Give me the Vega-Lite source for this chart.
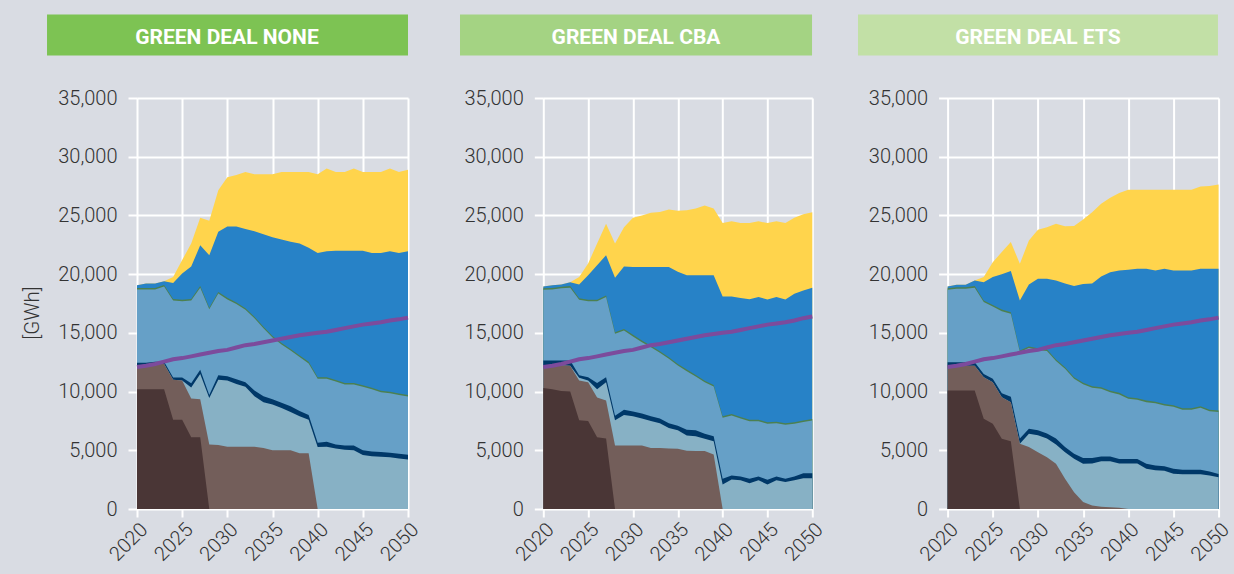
{
"$schema": "https://vega.github.io/schema/vega-lite/v6.json",
"background": "#d9dce3",
"padding": {"left": 23, "top": 14, "right": 10, "bottom": 15},
"autosize": {"type": "pad"},
"config": {
 "view": {"stroke": null},
 "font": "Roboto",
 "axis": {"labelFont": "Roboto", "labelFontSize": 20, "labelFontWeight": 300, "labelColor": "#333333", "labelFlush": false, "labelOverlap": false, "grid": true, "gridColor": "#ffffff", "gridWidth": 2, "gridOpacity": 1, "tickColor": "#ffffff", "tickWidth": 2, "domain": false}
},
"data": {"values": [
{"p":"NONE","year":2020,"lig":10200,"coal":12200,"gas":12200,"oil":12450,"hyd":18700,"bio":18830,"wind":19050,"pv":19050,"dem":12100},
{"p":"NONE","year":2021,"lig":10200,"coal":12200,"gas":12200,"oil":12450,"hyd":18700,"bio":18830,"wind":19200,"pv":19200,"dem":12200},
{"p":"NONE","year":2022,"lig":10200,"coal":12350,"gas":12350,"oil":12550,"hyd":18700,"bio":18830,"wind":19200,"pv":19200,"dem":12350},
{"p":"NONE","year":2023,"lig":10200,"coal":12350,"gas":12350,"oil":12550,"hyd":18950,"bio":19080,"wind":19400,"pv":19400,"dem":12550},
{"p":"NONE","year":2024,"lig":7600,"coal":11000,"gas":11000,"oil":11200,"hyd":17750,"bio":17880,"wind":19250,"pv":19750,"dem":12750},
{"p":"NONE","year":2025,"lig":7600,"coal":10950,"gas":10950,"oil":11200,"hyd":17700,"bio":17830,"wind":20050,"pv":21200,"dem":12850},
{"p":"NONE","year":2026,"lig":6100,"coal":9400,"gas":10350,"oil":10700,"hyd":17750,"bio":17880,"wind":20650,"pv":22600,"dem":13000},
{"p":"NONE","year":2027,"lig":6100,"coal":9350,"gas":11500,"oil":11850,"hyd":18850,"bio":18980,"wind":22450,"pv":24800,"dem":13150},
{"p":"NONE","year":2028,"lig":0,"coal":5500,"gas":9450,"oil":9700,"hyd":17000,"bio":17130,"wind":21600,"pv":24550,"dem":13300},
{"p":"NONE","year":2029,"lig":0,"coal":5450,"gas":11000,"oil":11400,"hyd":18350,"bio":18480,"wind":23600,"pv":27150,"dem":13450},
{"p":"NONE","year":2030,"lig":0,"coal":5300,"gas":10950,"oil":11300,"hyd":17850,"bio":17980,"wind":24050,"pv":28250,"dem":13550},
{"p":"NONE","year":2031,"lig":0,"coal":5300,"gas":10650,"oil":11050,"hyd":17450,"bio":17580,"wind":24050,"pv":28450,"dem":13750},
{"p":"NONE","year":2032,"lig":0,"coal":5300,"gas":10400,"oil":10800,"hyd":16970,"bio":17100,"wind":23850,"pv":28700,"dem":13950},
{"p":"NONE","year":2033,"lig":0,"coal":5300,"gas":9600,"oil":10100,"hyd":16250,"bio":16380,"wind":23650,"pv":28500,"dem":14050},
{"p":"NONE","year":2034,"lig":0,"coal":5200,"gas":9100,"oil":9600,"hyd":15400,"bio":15530,"wind":23400,"pv":28500,"dem":14200},
{"p":"NONE","year":2035,"lig":0,"coal":5000,"gas":8900,"oil":9350,"hyd":14600,"bio":14730,"wind":23150,"pv":28500,"dem":14350},
{"p":"NONE","year":2036,"lig":0,"coal":5000,"gas":8600,"oil":9050,"hyd":14000,"bio":14130,"wind":22950,"pv":28700,"dem":14500},
{"p":"NONE","year":2037,"lig":0,"coal":5000,"gas":8250,"oil":8750,"hyd":13500,"bio":13630,"wind":22750,"pv":28700,"dem":14650},
{"p":"NONE","year":2038,"lig":0,"coal":4750,"gas":7900,"oil":8350,"hyd":12950,"bio":13080,"wind":22600,"pv":28700,"dem":14800},
{"p":"NONE","year":2039,"lig":0,"coal":4750,"gas":7600,"oil":8000,"hyd":12400,"bio":12530,"wind":22250,"pv":28700,"dem":14900},
{"p":"NONE","year":2040,"lig":0,"coal":0,"gas":5270,"oil":5650,"hyd":11100,"bio":11230,"wind":21800,"pv":28500,"dem":15000},
{"p":"NONE","year":2041,"lig":0,"coal":0,"gas":5300,"oil":5720,"hyd":11100,"bio":11230,"wind":21950,"pv":29000,"dem":15100},
{"p":"NONE","year":2042,"lig":0,"coal":0,"gas":5150,"oil":5500,"hyd":10850,"bio":10980,"wind":22000,"pv":28700,"dem":15250},
{"p":"NONE","year":2043,"lig":0,"coal":0,"gas":5050,"oil":5400,"hyd":10600,"bio":10730,"wind":22000,"pv":28700,"dem":15400},
{"p":"NONE","year":2044,"lig":0,"coal":0,"gas":5000,"oil":5400,"hyd":10600,"bio":10730,"wind":22000,"pv":29000,"dem":15550},
{"p":"NONE","year":2045,"lig":0,"coal":0,"gas":4600,"oil":5000,"hyd":10400,"bio":10530,"wind":22000,"pv":28700,"dem":15700},
{"p":"NONE","year":2046,"lig":0,"coal":0,"gas":4500,"oil":4900,"hyd":10200,"bio":10330,"wind":21800,"pv":28700,"dem":15800},
{"p":"NONE","year":2047,"lig":0,"coal":0,"gas":4450,"oil":4850,"hyd":9950,"bio":10080,"wind":21800,"pv":28700,"dem":15900},
{"p":"NONE","year":2048,"lig":0,"coal":0,"gas":4400,"oil":4800,"hyd":9850,"bio":9980,"wind":21950,"pv":29000,"dem":16050},
{"p":"NONE","year":2049,"lig":0,"coal":0,"gas":4300,"oil":4700,"hyd":9700,"bio":9830,"wind":21800,"pv":28700,"dem":16150},
{"p":"NONE","year":2050,"lig":0,"coal":0,"gas":4220,"oil":4620,"hyd":9580,"bio":9710,"wind":21950,"pv":28900,"dem":16300},
{"p":"CBA","year":2020,"lig":10300,"coal":12250,"gas":12250,"oil":12650,"hyd":18670,"bio":18800,"wind":18950,"pv":18950,"dem":12100},
{"p":"CBA","year":2021,"lig":10200,"coal":12250,"gas":12250,"oil":12650,"hyd":18700,"bio":18830,"wind":19050,"pv":19050,"dem":12200},
{"p":"CBA","year":2022,"lig":10050,"coal":12250,"gas":12250,"oil":12650,"hyd":18800,"bio":18930,"wind":19120,"pv":19120,"dem":12350},
{"p":"CBA","year":2023,"lig":10000,"coal":12200,"gas":12200,"oil":12650,"hyd":18850,"bio":18980,"wind":19320,"pv":19320,"dem":12550},
{"p":"CBA","year":2024,"lig":7550,"coal":10950,"gas":11170,"oil":11400,"hyd":17820,"bio":17950,"wind":19120,"pv":19750,"dem":12750},
{"p":"CBA","year":2025,"lig":7500,"coal":10800,"gas":10950,"oil":11230,"hyd":17700,"bio":17830,"wind":19900,"pv":20900,"dem":12850},
{"p":"CBA","year":2026,"lig":6100,"coal":9500,"gas":10200,"oil":10720,"hyd":17700,"bio":17830,"wind":20750,"pv":22600,"dem":13000},
{"p":"CBA","year":2027,"lig":6000,"coal":9250,"gas":10800,"oil":11230,"hyd":18050,"bio":18180,"wind":21600,"pv":24300,"dem":13150},
{"p":"CBA","year":2028,"lig":0,"coal":5400,"gas":7550,"oil":7950,"hyd":14920,"bio":15050,"wind":19700,"pv":22600,"dem":13300},
{"p":"CBA","year":2029,"lig":0,"coal":5400,"gas":8000,"oil":8450,"hyd":15200,"bio":15330,"wind":20650,"pv":24000,"dem":13450},
{"p":"CBA","year":2030,"lig":0,"coal":5400,"gas":7900,"oil":8300,"hyd":14700,"bio":14830,"wind":20600,"pv":24800,"dem":13550},
{"p":"CBA","year":2031,"lig":0,"coal":5400,"gas":7700,"oil":8140,"hyd":14210,"bio":14340,"wind":20600,"pv":25000,"dem":13750},
{"p":"CBA","year":2032,"lig":0,"coal":5200,"gas":7500,"oil":7900,"hyd":13780,"bio":13910,"wind":20600,"pv":25230,"dem":13950},
{"p":"CBA","year":2033,"lig":0,"coal":5200,"gas":7300,"oil":7700,"hyd":13300,"bio":13430,"wind":20600,"pv":25300,"dem":14050},
{"p":"CBA","year":2034,"lig":0,"coal":5150,"gas":6900,"oil":7300,"hyd":12800,"bio":12930,"wind":20600,"pv":25500,"dem":14200},
{"p":"CBA","year":2035,"lig":0,"coal":5130,"gas":6700,"oil":7100,"hyd":12220,"bio":12350,"wind":20200,"pv":25400,"dem":14350},
{"p":"CBA","year":2036,"lig":0,"coal":4950,"gas":6260,"oil":6740,"hyd":11740,"bio":11870,"wind":19900,"pv":25450,"dem":14500},
{"p":"CBA","year":2037,"lig":0,"coal":4930,"gas":6200,"oil":6700,"hyd":11290,"bio":11420,"wind":19900,"pv":25600,"dem":14650},
{"p":"CBA","year":2038,"lig":0,"coal":4930,"gas":5980,"oil":6400,"hyd":10800,"bio":10930,"wind":19900,"pv":25850,"dem":14800},
{"p":"CBA","year":2039,"lig":0,"coal":4650,"gas":5780,"oil":6200,"hyd":10430,"bio":10560,"wind":19900,"pv":25600,"dem":14900},
{"p":"CBA","year":2040,"lig":0,"coal":0,"gas":2090,"oil":2570,"hyd":7770,"bio":7900,"wind":18100,"pv":24350,"dem":15000},
{"p":"CBA","year":2041,"lig":0,"coal":0,"gas":2510,"oil":2850,"hyd":7960,"bio":8090,"wind":18100,"pv":24500,"dem":15100},
{"p":"CBA","year":2042,"lig":0,"coal":0,"gas":2450,"oil":2770,"hyd":7700,"bio":7830,"wind":17960,"pv":24350,"dem":15250},
{"p":"CBA","year":2043,"lig":0,"coal":0,"gas":2200,"oil":2570,"hyd":7480,"bio":7610,"wind":17870,"pv":24350,"dem":15400},
{"p":"CBA","year":2044,"lig":0,"coal":0,"gas":2450,"oil":2770,"hyd":7480,"bio":7610,"wind":18050,"pv":24500,"dem":15550},
{"p":"CBA","year":2045,"lig":0,"coal":0,"gas":2090,"oil":2500,"hyd":7260,"bio":7390,"wind":17850,"pv":24350,"dem":15700},
{"p":"CBA","year":2046,"lig":0,"coal":0,"gas":2450,"oil":2770,"hyd":7300,"bio":7430,"wind":18050,"pv":24500,"dem":15800},
{"p":"CBA","year":2047,"lig":0,"coal":0,"gas":2300,"oil":2570,"hyd":7170,"bio":7300,"wind":17850,"pv":24350,"dem":15900},
{"p":"CBA","year":2048,"lig":0,"coal":0,"gas":2450,"oil":2770,"hyd":7260,"bio":7390,"wind":18330,"pv":24800,"dem":16050},
{"p":"CBA","year":2049,"lig":0,"coal":0,"gas":2620,"oil":3050,"hyd":7400,"bio":7530,"wind":18600,"pv":25100,"dem":16250},
{"p":"CBA","year":2050,"lig":0,"coal":0,"gas":2620,"oil":3050,"hyd":7540,"bio":7670,"wind":18840,"pv":25280,"dem":16400},
{"p":"ETS","year":2020,"lig":10100,"coal":12200,"gas":12200,"oil":12500,"hyd":18670,"bio":18800,"wind":18950,"pv":18950,"dem":12100},
{"p":"ETS","year":2021,"lig":10100,"coal":12200,"gas":12200,"oil":12500,"hyd":18750,"bio":18880,"wind":19100,"pv":19100,"dem":12200},
{"p":"ETS","year":2022,"lig":10100,"coal":12200,"gas":12200,"oil":12500,"hyd":18750,"bio":18880,"wind":19100,"pv":19100,"dem":12350},
{"p":"ETS","year":2023,"lig":10100,"coal":12200,"gas":12200,"oil":12500,"hyd":18850,"bio":18980,"wind":19460,"pv":19460,"dem":12550},
{"p":"ETS","year":2024,"lig":7680,"coal":11230,"gas":11230,"oil":11500,"hyd":17620,"bio":17750,"wind":19300,"pv":19750,"dem":12750},
{"p":"ETS","year":2025,"lig":7260,"coal":10800,"gas":10800,"oil":11100,"hyd":17250,"bio":17380,"wind":19750,"pv":21020,"dem":12850},
{"p":"ETS","year":2026,"lig":5980,"coal":9520,"gas":9520,"oil":9850,"hyd":16850,"bio":16980,"wind":20000,"pv":21880,"dem":13000},
{"p":"ETS","year":2027,"lig":5780,"coal":9100,"gas":9100,"oil":9550,"hyd":16630,"bio":16760,"wind":20260,"pv":22730,"dem":13150},
{"p":"ETS","year":2028,"lig":0,"coal":5550,"gas":5550,"oil":6000,"hyd":13360,"bio":13490,"wind":17760,"pv":20880,"dem":13300},
{"p":"ETS","year":2029,"lig":0,"coal":5270,"gas":6400,"oil":6830,"hyd":13700,"bio":13830,"wind":19120,"pv":22870,"dem":13450},
{"p":"ETS","year":2030,"lig":0,"coal":4840,"gas":6270,"oil":6700,"hyd":13550,"bio":13680,"wind":19600,"pv":23780,"dem":13550},
{"p":"ETS","year":2031,"lig":0,"coal":4400,"gas":6000,"oil":6430,"hyd":13450,"bio":13580,"wind":19600,"pv":24000,"dem":13750},
{"p":"ETS","year":2032,"lig":0,"coal":3850,"gas":5500,"oil":6000,"hyd":12600,"bio":12730,"wind":19460,"pv":24290,"dem":13950},
{"p":"ETS","year":2033,"lig":0,"coal":2570,"gas":4840,"oil":5270,"hyd":11940,"bio":12070,"wind":19200,"pv":24070,"dem":14050},
{"p":"ETS","year":2034,"lig":0,"coal":1430,"gas":4270,"oil":4700,"hyd":11100,"bio":11230,"wind":19000,"pv":24100,"dem":14200},
{"p":"ETS","year":2035,"lig":0,"coal":600,"gas":3850,"oil":4350,"hyd":10630,"bio":10760,"wind":19150,"pv":24650,"dem":14350},
{"p":"ETS","year":2036,"lig":0,"coal":300,"gas":3870,"oil":4350,"hyd":10320,"bio":10450,"wind":19200,"pv":25280,"dem":14500},
{"p":"ETS","year":2037,"lig":0,"coal":200,"gas":4070,"oil":4470,"hyd":10240,"bio":10370,"wind":19800,"pv":26000,"dem":14650},
{"p":"ETS","year":2038,"lig":0,"coal":150,"gas":4070,"oil":4470,"hyd":9950,"bio":10080,"wind":20170,"pv":26500,"dem":14800},
{"p":"ETS","year":2039,"lig":0,"coal":100,"gas":3870,"oil":4250,"hyd":9760,"bio":9890,"wind":20300,"pv":26900,"dem":14900},
{"p":"ETS","year":2040,"lig":0,"coal":0,"gas":3870,"oil":4250,"hyd":9390,"bio":9520,"wind":20370,"pv":27190,"dem":15000},
{"p":"ETS","year":2041,"lig":0,"coal":0,"gas":3870,"oil":4250,"hyd":9300,"bio":9430,"wind":20460,"pv":27190,"dem":15100},
{"p":"ETS","year":2042,"lig":0,"coal":0,"gas":3420,"oil":3860,"hyd":9100,"bio":9230,"wind":20460,"pv":27190,"dem":15250},
{"p":"ETS","year":2043,"lig":0,"coal":0,"gas":3290,"oil":3710,"hyd":9000,"bio":9130,"wind":20300,"pv":27190,"dem":15400},
{"p":"ETS","year":2044,"lig":0,"coal":0,"gas":3250,"oil":3650,"hyd":8820,"bio":8950,"wind":20460,"pv":27190,"dem":15550},
{"p":"ETS","year":2045,"lig":0,"coal":0,"gas":3000,"oil":3420,"hyd":8700,"bio":8830,"wind":20300,"pv":27190,"dem":15700},
{"p":"ETS","year":2046,"lig":0,"coal":0,"gas":2950,"oil":3350,"hyd":8450,"bio":8580,"wind":20300,"pv":27190,"dem":15800},
{"p":"ETS","year":2047,"lig":0,"coal":0,"gas":2950,"oil":3350,"hyd":8450,"bio":8580,"wind":20300,"pv":27190,"dem":15900},
{"p":"ETS","year":2048,"lig":0,"coal":0,"gas":2950,"oil":3350,"hyd":8620,"bio":8750,"wind":20460,"pv":27470,"dem":16050},
{"p":"ETS","year":2049,"lig":0,"coal":0,"gas":2850,"oil":3190,"hyd":8330,"bio":8460,"wind":20460,"pv":27500,"dem":16150},
{"p":"ETS","year":2050,"lig":0,"coal":0,"gas":2710,"oil":2990,"hyd":8250,"bio":8380,"wind":20460,"pv":27640,"dem":16300}
]},
"bounds": "flush",
"spacing": 135.3,
"hconcat": [
 {"width": 271, "height": 411,
  "layer": [
   {"data": {"values": [{"t": "GREEN DEAL NONE"}]}, "mark": {"type": "rect", "color": "#7dc353", "clip": false},
    "encoding": {"x": {"datum": 2010.04, "type": "quantitative", "title": null, "scale": {"domain": [2020, 2050], "nice": false, "zero": false}}, "x2": {"datum": 2050.0}, "y": {"datum": 42111, "type": "quantitative", "title": null, "scale": {"domain": [0, 35000], "nice": false}}, "y2": {"datum": 38619}}},
   {"data": {"values": [{"t": "GREEN DEAL NONE"}]}, "mark": {"type": "text", "color": "#ffffff", "font": "Roboto", "fontSize": 21, "fontWeight": "bold", "baseline": "alphabetic", "align": "center", "clip": false},
    "encoding": {"text": {"field": "t"}, "x": {"datum": 2029.96, "type": "quantitative", "title": null, "scale": {"domain": [2020, 2050], "nice": false, "zero": false}}, "y": {"datum": 39581, "type": "quantitative", "title": null, "scale": {"domain": [0, 35000], "nice": false}}}},
   {"data": {"values": [{"t": "[GWh]"}]}, "mark": {"type": "text", "color": "#333333", "font": "Roboto", "fontSize": 20.5, "fontWeight": 300, "angle": 270, "baseline": "middle", "align": "center", "clip": false},
    "encoding": {"text": {"field": "t"}, "x": {"datum": 2008.49, "type": "quantitative", "title": null, "scale": {"domain": [2020, 2050], "nice": false, "zero": false}}, "y": {"datum": 16690, "type": "quantitative", "title": null, "scale": {"domain": [0, 35000], "nice": false}}}},
   {"transform": [{"filter": "datum.p === 'NONE'"}, {"fold": ["pv","wind","bio","hyd","oil","gas","coal","lig","dem"], "as": ["k","v"]}],
    "encoding": {
     "x": {"field": "year", "type": "quantitative", "scale": {"domain": [2020, 2050], "nice": false, "zero": false}, "axis": {"values": [2020,2025,2030,2035,2040,2045,2050], "format": "d", "labelAngle": -45, "labelAlign": "right", "labelBaseline": "top", "title": null, "labelPadding": 2, "tickSize": 8}},
     "y": {"field": "v", "type": "quantitative", "stack": null, "scale": {"domain": [0, 35000], "nice": false}, "axis": {"values": [0,5000,10000,15000,20000,25000,30000,35000], "format": ",d", "title": null, "labelPadding": 11, "tickSize": 9}}
    },
    "layer": [
     {"transform": [{"filter": "datum.k === 'pv'"}], "mark": {"type": "area", "color": "#ffd44c"}, "encoding": {}},
     {"transform": [{"filter": "datum.k === 'wind'"}], "mark": {"type": "area", "color": "#2782c7"}, "encoding": {}},
     {"transform": [{"filter": "datum.k === 'bio'"}], "mark": {"type": "area", "color": "#4c8050"}, "encoding": {}},
     {"transform": [{"filter": "datum.k === 'hyd'"}], "mark": {"type": "area", "color": "#66a0c7"}, "encoding": {}},
     {"transform": [{"filter": "datum.k === 'oil'"}], "mark": {"type": "area", "color": "#003868"}, "encoding": {}},
     {"transform": [{"filter": "datum.k === 'gas'"}], "mark": {"type": "area", "color": "#87b1c5"}, "encoding": {}},
     {"transform": [{"filter": "datum.k === 'coal'"}], "mark": {"type": "area", "color": "#735e5a"}, "encoding": {}},
     {"transform": [{"filter": "datum.k === 'lig'"}], "mark": {"type": "area", "color": "#4a3636"}, "encoding": {}},
     {"transform": [{"filter": "datum.k === 'dem'"}], "mark": {"type": "line", "color": "#7c4b9c", "strokeWidth": 4}, "encoding": {}}
    ]}
  ]},
 {"width": 269, "height": 411,
  "layer": [
   {"data": {"values": [{"t": "GREEN DEAL CBA"}]}, "mark": {"type": "rect", "color": "#a4d383", "clip": false},
    "encoding": {"x": {"datum": 2010.71, "type": "quantitative", "title": null, "scale": {"domain": [2020, 2050], "nice": false, "zero": false}}, "x2": {"datum": 2049.97}, "y": {"datum": 42111, "type": "quantitative", "title": null, "scale": {"domain": [0, 35000], "nice": false}}, "y2": {"datum": 38619}}},
   {"data": {"values": [{"t": "GREEN DEAL CBA"}]}, "mark": {"type": "text", "color": "#ffffff", "font": "Roboto", "fontSize": 21, "fontWeight": "bold", "baseline": "alphabetic", "align": "center", "clip": false},
    "encoding": {"text": {"field": "t"}, "x": {"datum": 2030.34, "type": "quantitative", "title": null, "scale": {"domain": [2020, 2050], "nice": false, "zero": false}}, "y": {"datum": 39581, "type": "quantitative", "title": null, "scale": {"domain": [0, 35000], "nice": false}}}},
   {"transform": [{"filter": "datum.p === 'CBA'"}, {"fold": ["pv","wind","bio","hyd","oil","gas","coal","lig","dem"], "as": ["k","v"]}],
    "encoding": {
     "x": {"field": "year", "type": "quantitative", "scale": {"domain": [2020, 2050], "nice": false, "zero": false}, "axis": {"values": [2020,2025,2030,2035,2040,2045,2050], "format": "d", "labelAngle": -45, "labelAlign": "right", "labelBaseline": "top", "title": null, "labelPadding": 2, "tickSize": 8}},
     "y": {"field": "v", "type": "quantitative", "stack": null, "scale": {"domain": [0, 35000], "nice": false}, "axis": {"values": [0,5000,10000,15000,20000,25000,30000,35000], "format": ",d", "title": null, "labelPadding": 11, "tickSize": 9}}
    },
    "layer": [
     {"transform": [{"filter": "datum.k === 'pv'"}], "mark": {"type": "area", "color": "#ffd44c"}, "encoding": {}},
     {"transform": [{"filter": "datum.k === 'wind'"}], "mark": {"type": "area", "color": "#2782c7"}, "encoding": {}},
     {"transform": [{"filter": "datum.k === 'bio'"}], "mark": {"type": "area", "color": "#4c8050"}, "encoding": {}},
     {"transform": [{"filter": "datum.k === 'hyd'"}], "mark": {"type": "area", "color": "#66a0c7"}, "encoding": {}},
     {"transform": [{"filter": "datum.k === 'oil'"}], "mark": {"type": "area", "color": "#003868"}, "encoding": {}},
     {"transform": [{"filter": "datum.k === 'gas'"}], "mark": {"type": "area", "color": "#87b1c5"}, "encoding": {}},
     {"transform": [{"filter": "datum.k === 'coal'"}], "mark": {"type": "area", "color": "#735e5a"}, "encoding": {}},
     {"transform": [{"filter": "datum.k === 'lig'"}], "mark": {"type": "area", "color": "#4a3636"}, "encoding": {}},
     {"transform": [{"filter": "datum.k === 'dem'"}], "mark": {"type": "line", "color": "#7c4b9c", "strokeWidth": 4}, "encoding": {}}
    ]}
  ]},
 {"width": 271, "height": 411,
  "layer": [
   {"data": {"values": [{"t": "GREEN DEAL ETS"}]}, "mark": {"type": "rect", "color": "#c2e0a6", "clip": false},
    "encoding": {"x": {"datum": 2010.08, "type": "quantitative", "title": null, "scale": {"domain": [2020, 2050], "nice": false, "zero": false}}, "x2": {"datum": 2049.93}, "y": {"datum": 42111, "type": "quantitative", "title": null, "scale": {"domain": [0, 35000], "nice": false}}, "y2": {"datum": 38619}}},
   {"data": {"values": [{"t": "GREEN DEAL ETS"}]}, "mark": {"type": "text", "color": "#ffffff", "font": "Roboto", "fontSize": 21, "fontWeight": "bold", "baseline": "alphabetic", "align": "center", "clip": false},
    "encoding": {"text": {"field": "t"}, "x": {"datum": 2030.0, "type": "quantitative", "title": null, "scale": {"domain": [2020, 2050], "nice": false, "zero": false}}, "y": {"datum": 39581, "type": "quantitative", "title": null, "scale": {"domain": [0, 35000], "nice": false}}}},
   {"transform": [{"filter": "datum.p === 'ETS'"}, {"fold": ["pv","wind","bio","hyd","oil","gas","coal","lig","dem"], "as": ["k","v"]}],
    "encoding": {
     "x": {"field": "year", "type": "quantitative", "scale": {"domain": [2020, 2050], "nice": false, "zero": false}, "axis": {"values": [2020,2025,2030,2035,2040,2045,2050], "format": "d", "labelAngle": -45, "labelAlign": "right", "labelBaseline": "top", "title": null, "labelPadding": 2, "tickSize": 8}},
     "y": {"field": "v", "type": "quantitative", "stack": null, "scale": {"domain": [0, 35000], "nice": false}, "axis": {"values": [0,5000,10000,15000,20000,25000,30000,35000], "format": ",d", "title": null, "labelPadding": 11, "tickSize": 9}}
    },
    "layer": [
     {"transform": [{"filter": "datum.k === 'pv'"}], "mark": {"type": "area", "color": "#ffd44c"}, "encoding": {}},
     {"transform": [{"filter": "datum.k === 'wind'"}], "mark": {"type": "area", "color": "#2782c7"}, "encoding": {}},
     {"transform": [{"filter": "datum.k === 'bio'"}], "mark": {"type": "area", "color": "#4c8050"}, "encoding": {}},
     {"transform": [{"filter": "datum.k === 'hyd'"}], "mark": {"type": "area", "color": "#66a0c7"}, "encoding": {}},
     {"transform": [{"filter": "datum.k === 'oil'"}], "mark": {"type": "area", "color": "#003868"}, "encoding": {}},
     {"transform": [{"filter": "datum.k === 'gas'"}], "mark": {"type": "area", "color": "#87b1c5"}, "encoding": {}},
     {"transform": [{"filter": "datum.k === 'coal'"}], "mark": {"type": "area", "color": "#735e5a"}, "encoding": {}},
     {"transform": [{"filter": "datum.k === 'lig'"}], "mark": {"type": "area", "color": "#4a3636"}, "encoding": {}},
     {"transform": [{"filter": "datum.k === 'dem'"}], "mark": {"type": "line", "color": "#7c4b9c", "strokeWidth": 4}, "encoding": {}}
    ]}
  ]}
]
}
